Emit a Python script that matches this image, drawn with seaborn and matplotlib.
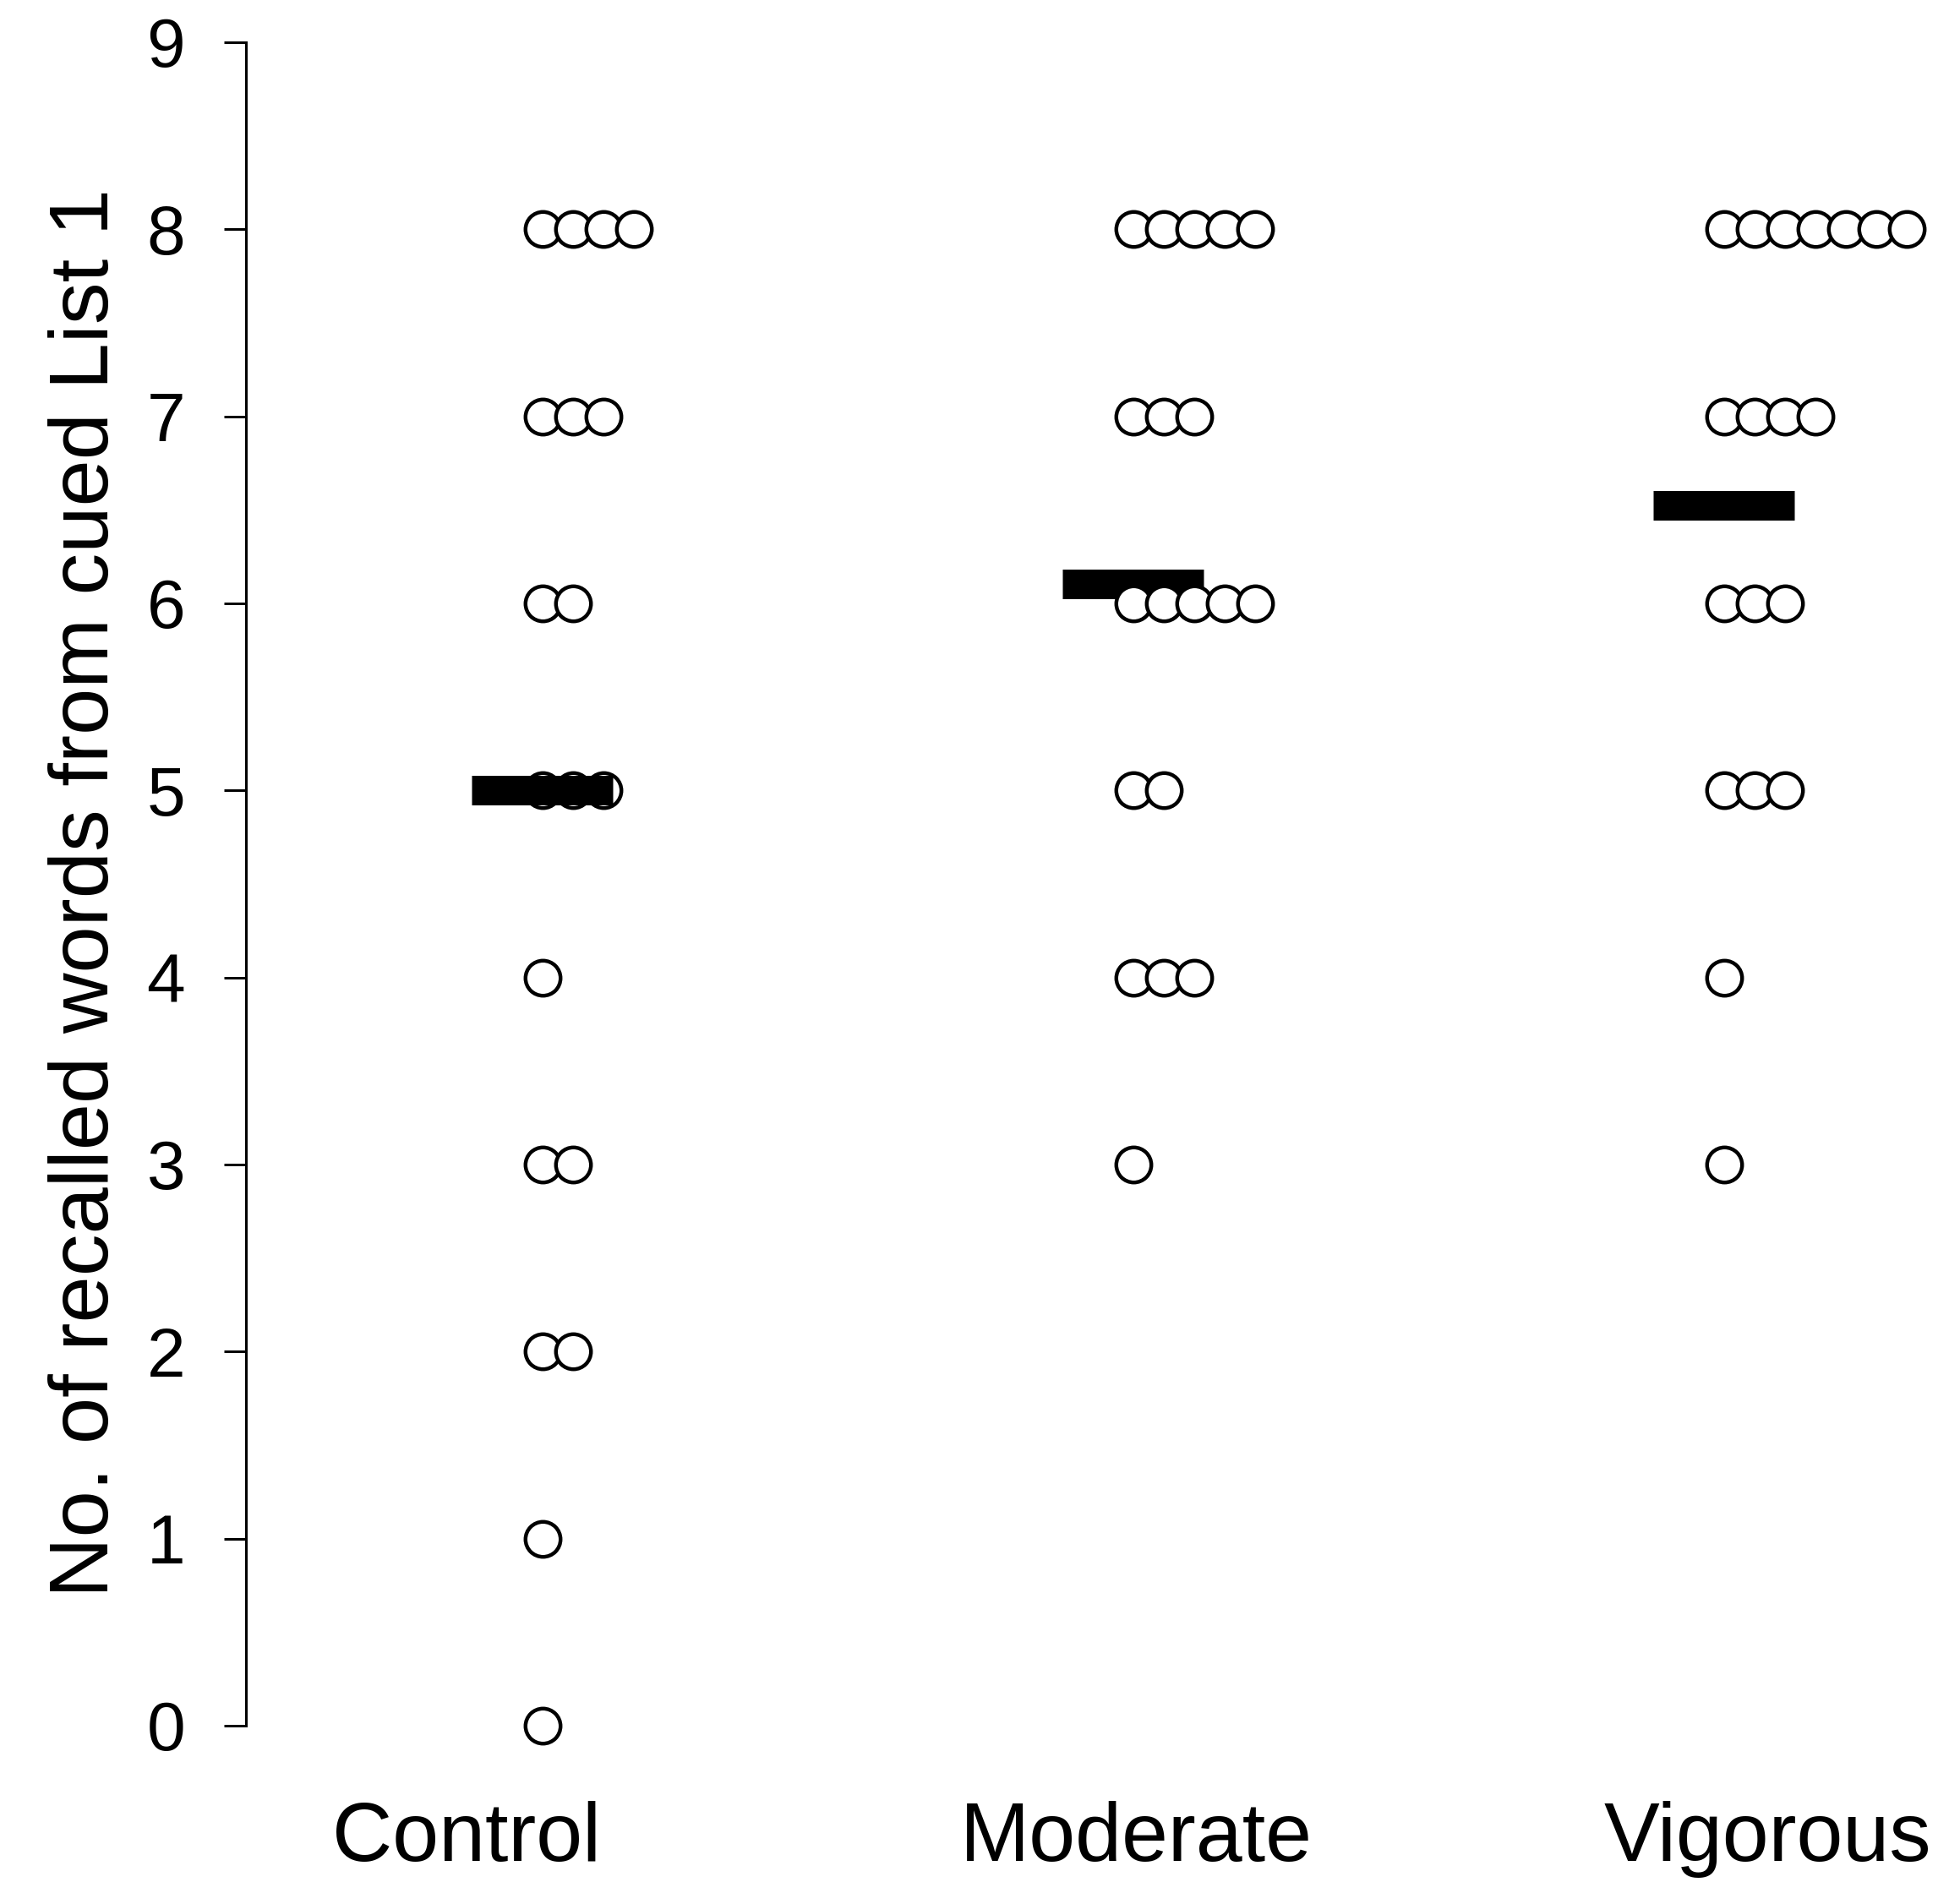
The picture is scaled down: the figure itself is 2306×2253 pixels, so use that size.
import numpy as np
import pandas as pd
import matplotlib
matplotlib.use("Agg")
import matplotlib.pyplot as plt
import seaborn as sns

# individual scores (19 participants per group)
groups = ["Control", "Moderate", "Vigorous"]
control = [8, 8, 8, 8, 7, 7, 7, 6, 6, 5, 5, 5, 4, 3, 3, 2, 2, 1, 0]
moderate = [8, 8, 8, 8, 8, 7, 7, 7, 6, 6, 6, 6, 6, 5, 5, 4, 4, 4, 3]
vigorous = [8, 8, 8, 8, 8, 8, 8, 7, 7, 7, 7, 6, 6, 6, 5, 5, 5, 4, 3]
y_ticks = list(range(10))
y_label = "No. of recalled words from cued List 1"

sns.set_style("white")
plt.rcParams["font.family"] = ["Liberation Sans", "DejaVu Sans"]

# long table, dots of equal score stacked to the right of the group position
df = pd.DataFrame({
    "group": np.repeat(groups, [len(control), len(moderate), len(vigorous)]),
    "score": control + moderate + vigorous,
})
df["pos"] = df["group"].map({g: i for i, g in enumerate(groups)})
df["stack"] = df.groupby(["group", "score"]).cumcount()
step = 0.0515
df["x"] = df["pos"] + df["stack"] * step

W, H = 2306, 2253
fig = plt.figure(figsize=(W / 100, H / 100), dpi=100)
ax = fig.add_axes([291 / W, 211 / H, 1 - 291 / W, 1992 / H])

sns.scatterplot(data=df, x="x", y="score", ax=ax, s=890, marker="o",
                facecolor="white", edgecolor="black", linewidth=3.2,
                zorder=3, clip_on=False, legend=False)

# group means as thick black bars
means = df.groupby("pos")["score"].mean()
for pos, m in means.items():
    # control bar sits over its dots, the others under
    z = 4 if pos == 0 else 2
    ax.hlines(m, pos - 0.1195, pos + 0.1195, colors="black", linewidth=25.2,
              zorder=z)

ax.set_xlim(-0.5014, 2.381)
ax.set_ylim(0, 9)
ax.set_yticks(y_ticks)
ax.set_yticklabels([str(t) for t in y_ticks], fontsize=59)
ax.set_xticks([])
ax.set_xlabel("")
ax.tick_params(axis="y", left=True, direction="out", length=18.7, width=2.16,
               pad=33, color="black", labelcolor="black")
for side in ["top", "right", "bottom"]:
    ax.spines[side].set_visible(False)
ax.spines["left"].set_linewidth(2.16)
ax.spines["left"].set_color("black")

ax.set_ylabel(y_label, fontsize=71.5, color="black", rotation_mode="anchor",
              ha="center", va="baseline")
ax.yaxis.set_label_coords(-0.0809, 0.4945)

# category names under the axis
label_x = [-0.128, 1.005, 2.074]
for lx, g in zip(label_x, groups):
    ax.text(lx, -0.0803, g, transform=ax.get_xaxis_transform(), fontsize=71,
            ha="center", va="baseline", color="black")

fig.savefig("out.png", dpi=100, facecolor="white")
